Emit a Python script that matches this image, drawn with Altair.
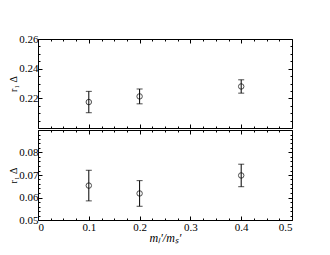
import altair as alt
import pandas as pd
import numpy as np

# data
x_vals = [0.1, 0.2, 0.4]
top_val = [0.2175, 0.2213, 0.2280]
top_err = [0.0072, 0.0050, 0.0045]
bot_val = [0.0653, 0.0618, 0.0698]
bot_err = [0.0068, 0.0057, 0.0050]

x_major = [0, 0.1, 0.2, 0.3, 0.4, 0.5]
x_minor = [0.025, 0.05, 0.075, 0.125, 0.15, 0.175, 0.225, 0.25, 0.275,
           0.325, 0.35, 0.375, 0.425, 0.45, 0.475]
top_major = [0.20, 0.22, 0.24, 0.26]
top_minor = [0.205, 0.21, 0.215, 0.225, 0.23, 0.235, 0.245, 0.25, 0.255]
bot_major = [0.05, 0.06, 0.07, 0.08, 0.09]
bot_minor = [0.052, 0.054, 0.056, 0.058, 0.062, 0.064, 0.066, 0.068,
             0.072, 0.074, 0.076, 0.078, 0.082, 0.084, 0.086, 0.088]

FONT = "Liberation Serif"
W = 254


def panel(vals, errs, ydom, ymaj, ymin, ylab_vals, height, xlabels):
    df = pd.DataFrame({
        "x": x_vals,
        "y": vals,
        "lo": [v - e for v, e in zip(vals, errs)],
        "hi": [v + e for v, e in zip(vals, errs)],
    })
    xs = alt.Scale(domain=[0, 0.5], nice=False, zero=False)
    ys = alt.Scale(domain=ydom, nice=False, zero=False)
    base = alt.Chart(df)

    def ax_x(orient, values, size, labels, title=None):
        kw = dict(orient=orient, values=values, tickSize=size, offset=-size,
                  domain=False, grid=False, labels=labels, tickColor="black",
                  tickWidth=1)
        if labels:
            kw.update(labelFont=FONT, labelFontSize=11, labelColor="black",
                      labelPadding=1, format="~g")
        if title:
            kw.update(title=title, titleFont=FONT, titleFontSize=12,
                      titleFontWeight="normal", titleFontStyle="italic",
                      titleColor="black", titlePadding=0)
        else:
            kw.update(title=None)
        return alt.Axis(**kw)

    def ax_y(orient, values, size, labels, title=None):
        kw = dict(orient=orient, values=values, tickSize=size, offset=-size,
                  domain=False, grid=False, labels=labels, tickColor="black",
                  tickWidth=1)
        if labels:
            kw.update(labelFont=FONT, labelFontSize=11, labelColor="black",
                      labelPadding=0, format="~g",
                      labelExpr="indexof(" + str(ylab_vals) + ", datum.value) >= 0 ? datum.label : ''")
        if title:
            kw.update(title=title, titleFont=FONT, titleFontSize=10,
                      titleFontWeight="normal", titleColor="black",
                      titlePadding=0)
        else:
            kw.update(title=None)
        return alt.Axis(**kw)

    xtitle = "mₗ′/mₛ′" if xlabels else None

    rule = base.mark_rule(color="black", strokeWidth=1).encode(
        x=alt.X("x:Q", scale=xs, axis=ax_x("bottom", x_major, 4, xlabels, xtitle)),
        y=alt.Y("lo:Q", scale=ys, axis=ax_y("left", ymaj, 4, True, "r₁ Δ")),
        y2="hi:Q",
    )
    cap_lo = base.mark_tick(color="black", size=6, thickness=1, orient="horizontal").encode(
        x=alt.X("x:Q", scale=xs, axis=ax_x("bottom", x_minor, 2, False)),
        y=alt.Y("lo:Q", scale=ys, axis=ax_y("left", ymin, 2, False)),
    )
    cap_hi = base.mark_tick(color="black", size=6, thickness=1, orient="horizontal").encode(
        x=alt.X("x:Q", scale=xs, axis=ax_x("top", x_major, 4, False)),
        y=alt.Y("hi:Q", scale=ys, axis=ax_y("right", ymaj, 4, False)),
    )
    pts = base.mark_point(shape="circle", size=30, color="black", filled=False,
                          strokeWidth=1).encode(
        x=alt.X("x:Q", scale=xs, axis=ax_x("top", x_minor, 2, False)),
        y=alt.Y("y:Q", scale=ys, axis=ax_y("right", ymin, 2, False)),
    )
    return alt.layer(rule, cap_lo, cap_hi, pts).resolve_axis(
        x="independent", y="independent").properties(width=W, height=height)


top = panel(top_val, top_err, [0.20, 0.26], top_major, top_minor,
            [0.22, 0.24, 0.26], 89, False)
bot = panel(bot_val, bot_err, [0.05, 0.09], bot_major, bot_minor,
            [0.05, 0.06, 0.07, 0.08], 90, True)

chart = alt.vconcat(top, bot, spacing=0).configure_view(
    stroke="black", strokeWidth=1
).properties(
    background="white",
    padding={"left": 0, "top": 24, "right": 5, "bottom": 5},
)

chart.save("out.html", embed_options={"renderer": "svg", "actions": False})
